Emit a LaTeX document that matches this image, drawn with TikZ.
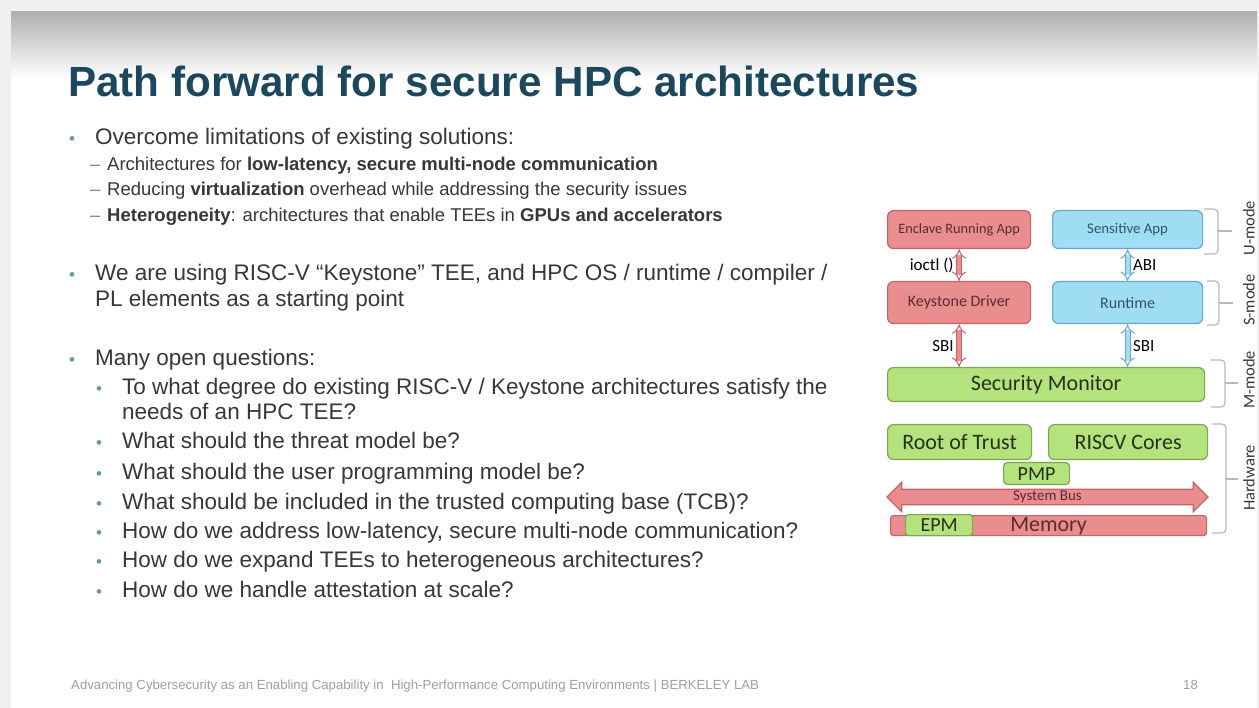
\documentclass[tikz,border=0pt]{standalone}
\usepackage{fontspec}
\setmainfont{Liberation Sans}
\newfontfamily\diagfont{Carlito}
\usepackage{xcolor}
\usetikzlibrary{shapes.arrows, arrows.meta}

\definecolor{corTitulo}{RGB}{28,72,94}
\definecolor{corTexto}{RGB}{55,55,55}
\definecolor{corMarca}{RGB}{100,150,172}
\definecolor{rosa}{RGB}{234,141,143}
\definecolor{rosaborda}{RGB}{196,100,102}
\definecolor{azul}{RGB}{158,221,244}
\definecolor{azulborda}{RGB}{100,168,198}
\definecolor{verde}{RGB}{180,226,124}
\definecolor{verdeborda}{RGB}{120,168,80}

\newcommand\fs[1]{\fontsize{#1}{#1}\selectfont}

\begin{document}
\begin{tikzpicture}[x=1pt, y=-1pt,
    corpo/.style={anchor=base west, inner sep=0pt, text=corTexto, font=\fs{22.5}},
    sub/.style={anchor=base west, inner sep=0pt, text=corTexto, font=\fs{18.5}},
    marca/.style={anchor=base west, inner sep=0pt, text=corMarca, font=\fs{17}},
    traco/.style={anchor=base west, inner sep=0pt, text=corTexto!60, font=\fs{18.5}},
    caixa/.style={draw=#1borda, fill=#1, rounded corners=6pt, line width=1.2pt,
      inner sep=0pt, anchor=north west},
    seta/.style={draw=#1borda, double=#1, double distance=4pt, line width=1pt,
      {Implies}-{Implies}},
    rotulo/.style={font=\diagfont\fs{17}, inner sep=5pt},
    chave/.style={draw=gray!55, line width=1.2pt, rounded corners=4pt},
    modo/.style={rotate=90, font=\diagfont\fs{16.5}, text=corTexto, inner sep=0pt}]

    \useasboundingbox (0,0) rectangle (1259,708);

    % Fundo do slide
    \fill[gray!12] (0,0) rectangle (1259,708);
    \fill[white] (11,12) rectangle (1257,708);
    \shade[top color=gray!62, middle color=gray!22, bottom color=white] (11,12) rectangle (1257,78);

    % Titulo
    \node[anchor=base west, inner sep=0pt, text=corTitulo, font=\bfseries\fs{42.2}] (tit) at (68,97)
        {Path forward for secure HPC architectures};

    % Lista de topicos
    \node[marca] (m1) at (69,145) {•};
    \node[corpo] (t1) at (95,145) {Overcome limitations of existing solutions:};
    \node[traco] (d1) at (90,171) {–};
    \node[sub] (t1a) at (107,171) {Architectures for \textbf{low-latency, secure multi-node communication}};
    \node[traco] (d2) at (90,196) {–};
    \node[sub] (t1b) at (107,196) {Reducing \textbf{virtualization} overhead while addressing the security issues};
    \node[traco] (d3) at (90,222) {–};
    \node[sub] (t1c) at (107,222) {\textbf{Heterogeneity}: architectures that enable TEEs in \textbf{GPUs and accelerators}};

    \node[marca] (m2) at (69,281) {•};
    \node[corpo] (t2) at (95,281) {We are using RISC-V “Keystone” TEE, and HPC OS / runtime / compiler /};
    \node[corpo] (t2b) at (95,307) {PL elements as a starting point};

    \node[marca] (m3) at (69,366) {•};
    \node[corpo] (t3) at (95,366) {Many open questions:};
    \node[marca] (q1m) at (96,395) {•};
    \node[corpo] (q1) at (122,395) {To what degree do existing RISC-V / Keystone architectures satisfy the};
    \node[corpo] (q1b) at (122,420) {needs of an HPC TEE?};
    \node[marca] (q2m) at (96,449) {•};
    \node[corpo] (q2) at (122,449) {What should the threat model be?};
    \node[marca] (q3m) at (96,479) {•};
    \node[corpo] (q3) at (122,479) {What should the user programming model be?};
    \node[marca] (q4m) at (96,509) {•};
    \node[corpo] (q4) at (122,509) {What should be included in the trusted computing base (TCB)?};
    \node[marca] (q5m) at (96,538) {•};
    \node[corpo] (q5) at (122,538) {How do we address low-latency, secure multi-node communication?};
    \node[marca] (q6m) at (96,567) {•};
    \node[corpo] (q6) at (122,567) {How do we expand TEEs to heterogeneous architectures?};
    \node[marca] (q7m) at (96,597) {•};
    \node[corpo] (q7) at (122,597) {How do we handle attestation at scale?};

    % Rodape
    \node[anchor=base west, inner sep=0pt, text=gray!75, font=\fs{13.2}] (rod) at (71,689)
        {Advancing Cybersecurity as an Enabling Capability in\ \ High-Performance Computing Environments | BERKELEY LAB};
    \node[anchor=base west, inner sep=0pt, text=gray!75, font=\fs{13.2}] (pag) at (1183,689) {18};

    % Camadas do Keystone
    \node[caixa=rosa, minimum width=143pt, minimum height=38pt, font=\diagfont\fs{14.3},
        text=rosaborda!45!black] (enclave) at (887,210) {Enclave Running App};
    \node[caixa=azul, minimum width=150pt, minimum height=38pt, font=\diagfont\fs{14.8},
        text=azulborda!50!black] (sensivel) at (1052,210) {Sensitive App};
    \node[caixa=rosa, minimum width=143pt, minimum height=42pt, font=\diagfont\fs{16},
        text=rosaborda!45!black] (driver) at (887,281) {Keystone Driver};
    \node[caixa=azul, minimum width=150pt, minimum height=42pt, font=\diagfont\fs{16},
        text=azulborda!50!black] (runtime) at (1052,281) {Runtime};
    \node[caixa=verde, minimum width=317pt, minimum height=34pt, font=\diagfont\fs{22},
        text=verdeborda!30!black] (monitor) at (887,367) {Security Monitor};

    % Hardware
    \node[caixa=verde, minimum width=144pt, minimum height=35pt, font=\diagfont\fs{22},
        text=verdeborda!30!black] (raiz) at (887,424) {Root of Trust};
    \node[caixa=verde, minimum width=159pt, minimum height=35pt, font=\diagfont\fs{22},
        text=verdeborda!30!black] (nucleos) at (1048,424) {RISCV Cores};
    \node[caixa=verde, rounded corners=4pt, minimum width=66pt, minimum height=22pt,
        font=\diagfont\fs{20}, text=verdeborda!30!black] (pmp) at (1003,462) {PMP};
    \node[double arrow, draw=rosaborda, fill=rosa, line width=1.2pt, inner xsep=0pt, inner ysep=1pt,
        minimum height=321pt, minimum width=27pt, font=\diagfont\fs{15},
        text=rosaborda!45!black] (barramento) at (1047.5,497) {System Bus};
    \node[caixa=rosa, rounded corners=3pt, minimum width=316pt, minimum height=20pt,
        text height=14pt, text depth=3pt, font=\diagfont\fs{22},
        text=rosaborda!45!black] (memoria) at (890,515) {Memory};
    \node[caixa=verde, rounded corners=3pt, minimum width=67pt, minimum height=21pt,
        font=\diagfont\fs{20}, text=verdeborda!30!black] (epm) at (905,514) {EPM};

    % Interfaces
    \draw[seta=rosa] (enclave) -- node[rotulo, left] {ioctl ()} (driver);
    \draw[seta=azul] (sensivel) -- node[rotulo, right] {ABI} (runtime);
    \draw[seta=rosa] (driver.south) -- node[rotulo, left] {SBI} (driver.south |- monitor.north);
    \draw[seta=azul] (runtime.south) -- node[rotulo, right] {SBI} (runtime.south |- monitor.north);

    % Modos de privilegio
    \draw[chave] (1204,209) -- (1218,209) -- (1218,254) -- (1204,254);
    \draw[chave] (1218,231) -- (1232,231);
    \node[modo] (umode) at (1249,228) {U-mode};
    \draw[chave] (1207,281) -- (1219,281) -- (1219,325) -- (1207,325);
    \draw[chave] (1219,303) -- (1233,303);
    \node[modo] (smode) at (1249,300) {S-mode};
    \draw[chave] (1211,360) -- (1225,360) -- (1225,407) -- (1211,407);
    \draw[chave] (1225,383) -- (1238,383);
    \node[modo] (mmode) at (1249,380) {M-mode};
    \draw[chave] (1212,424) -- (1226,424) -- (1226,533) -- (1212,533);
    \draw[chave] (1226,479) -- (1238,479);
    \node[modo] (hw) at (1249,478) {Hardware};
\end{tikzpicture}
\end{document}
